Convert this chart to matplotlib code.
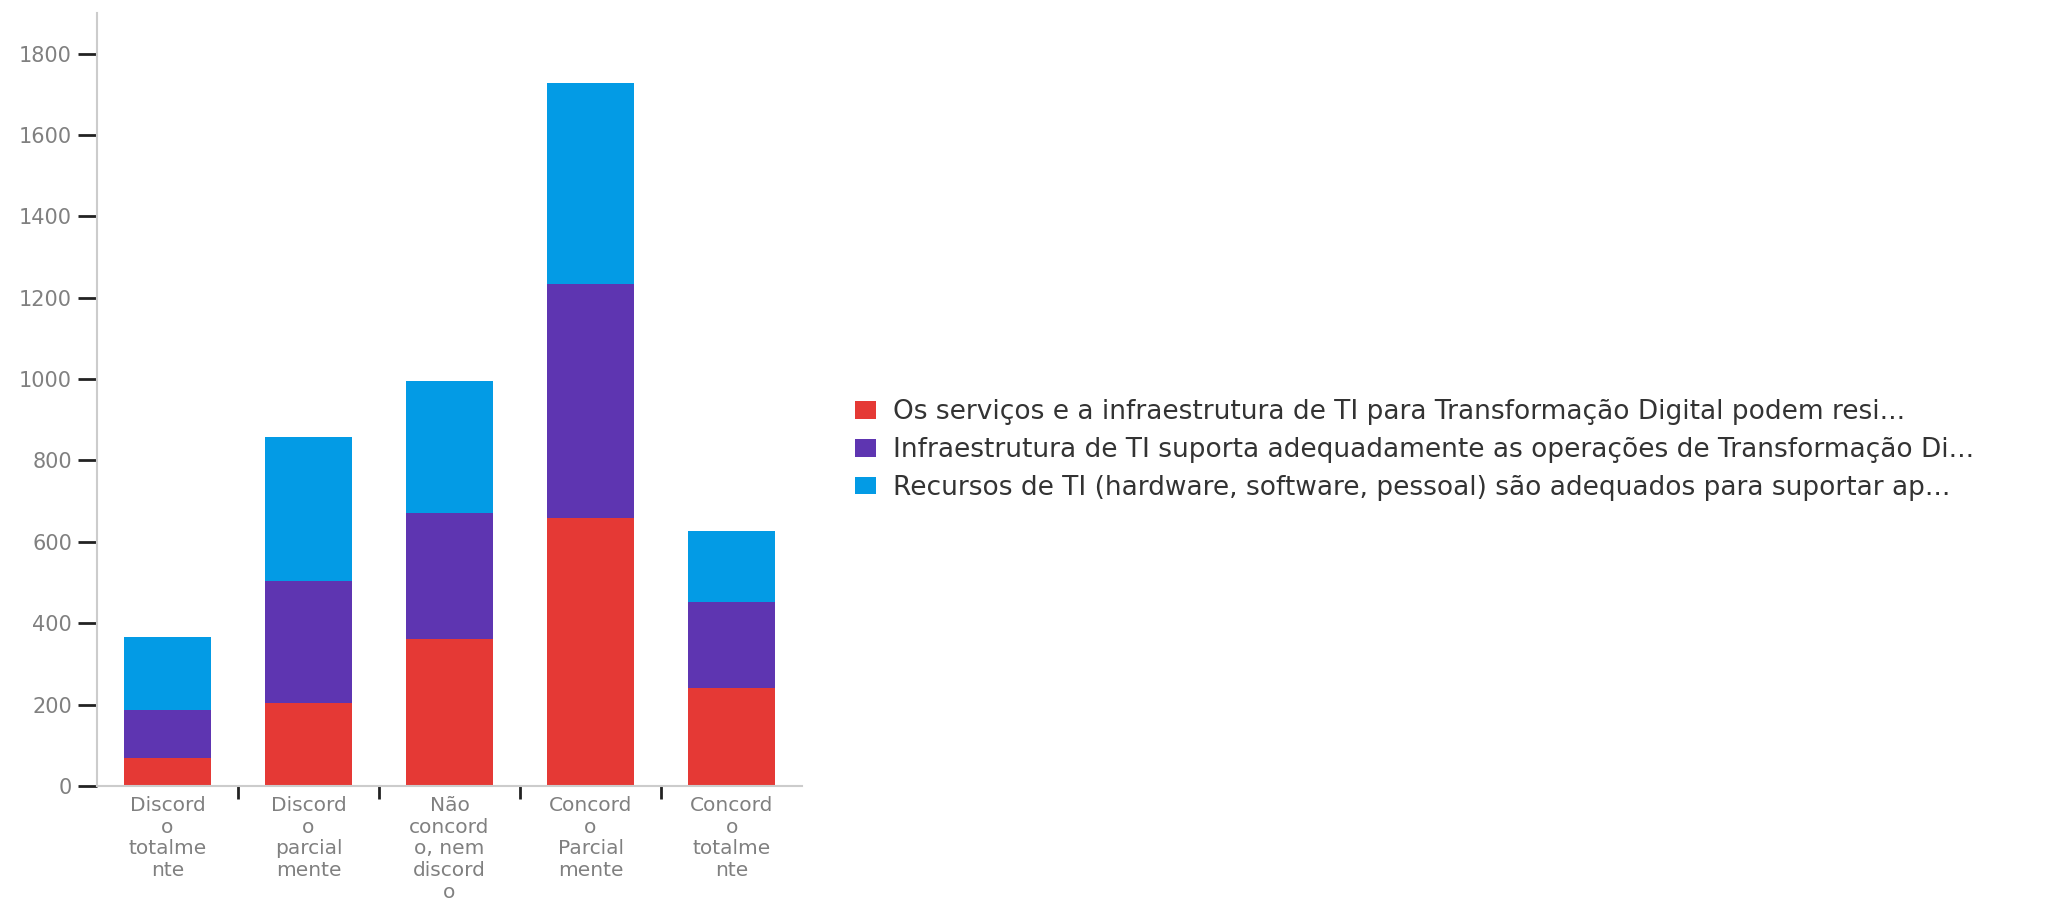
import numpy as np
import matplotlib.pyplot as plt

# categorias e valores
categorias = ["Discord\no\ntotalme\nnte", "Discord\no\nparcial\nmente",
              "Não\nconcord\no, nem\ndiscord\no", "Concord\no\nParcial\nmente",
              "Concord\no\ntotalme\nnte"]
servicos = [70, 203, 361, 658, 240]
infraestrutura = [117, 302, 311, 576, 212]
recursos = [179, 352, 324, 494, 175]

rotulos = ["Os serviços e a infraestrutura de TI para Transformação Digital podem resi...",
           "Infraestrutura de TI suporta adequadamente as operações de Transformação Di...",
           "Recursos de TI (hardware, software, pessoal) são adequados para suportar ap..."]
cores = ["#E53935", "#5E35B1", "#039BE5"]

fig = plt.figure(figsize=(20.62, 8.98), dpi=100)
ax = fig.add_axes([0.047, 0.1247, 0.342, 0.861])

x = np.arange(len(categorias))
base = np.zeros(len(categorias))
for vals, cor, rot in zip([servicos, infraestrutura, recursos], cores, rotulos):
    ax.bar(x, vals, width=0.62, bottom=base, color=cor, label=rot)
    base += np.array(vals)

ax.set_xlim(-0.5, 4.5)
ax.set_ylim(0, 1900)
ax.set_yticks(np.arange(0, 1801, 200))
ax.tick_params(axis='y', labelsize=15, labelcolor='#808080', length=14, width=2, color='#222222', pad=4)

# ticks do eixo x entre as categorias
ax.set_xticks(np.arange(0.5, 4.5, 1))
ax.set_xticklabels([])
ax.tick_params(axis='x', length=9, width=2, color='#222222', direction='out')
for xi, cat in zip(x, categorias):
    ax.text(xi, -0.013, cat, transform=ax.get_xaxis_transform(), ha='center', va='top',
            fontsize=14.5, color='#808080', linespacing=1.18)

for lado in ['top', 'right']:
    ax.spines[lado].set_visible(False)
for lado in ['left', 'bottom']:
    ax.spines[lado].set_color('#cccccc')
    ax.spines[lado].set_linewidth(1.5)

fig.legend(loc='center left', bbox_to_anchor=(855 / 2062, 1 - 450 / 898), frameon=False,
           fontsize=19, labelcolor='#333333', handlelength=0.8, handleheight=0.65,
           labelspacing=0.45, handletextpad=0.65, borderaxespad=0, borderpad=0)

fig.savefig("out.png", dpi=100)
